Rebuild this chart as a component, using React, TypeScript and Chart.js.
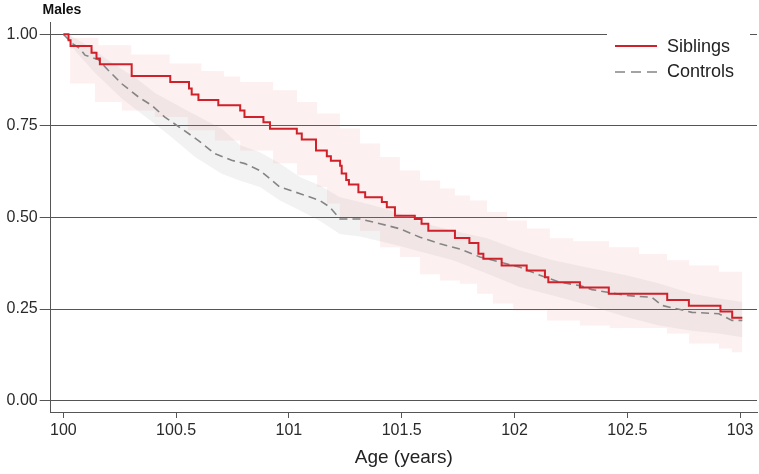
import React, { useEffect, useRef } from 'react';
import { Chart, registerables } from 'chart.js';

Chart.register(...registerables);

const FONT = "'Liberation Sans', Arial, Helvetica, sans-serif";

const panelTitle = 'Males';
const xAxisTitle = 'Age (years)';
const seriesNames = ['Siblings', 'Controls'];

const xTickValues = [100, 100.5, 101, 101.5, 102, 102.5, 103];
const xTickLabels = ['100', '100.5', '101', '101.5', '102', '102.5', '103'];
const yTickValues = [0, 0.25, 0.5, 0.75, 1];
const yTickLabels = ['0.00', '0.25', '0.50', '0.75', '1.00'];

// Siblings Kaplan-Meier estimate (step function)
const siblingsAge = [
  100.0, 100.023, 100.032, 100.125, 100.147, 100.162, 100.303, 100.474, 100.557, 100.569,
  100.599, 100.687, 100.784, 100.803, 100.887, 100.916, 101.035, 101.057, 101.12, 101.168,
  101.186, 101.227, 101.234, 101.254, 101.266, 101.308, 101.338, 101.412, 101.434, 101.47,
  101.558, 101.588, 101.618, 101.736, 101.8, 101.84, 101.862, 101.943, 102.054, 102.135,
  102.15, 102.29, 102.418, 102.677, 102.773, 102.913, 102.965, 103.01,
];
const siblingsSurv = [
  1.0, 0.984, 0.968, 0.95, 0.934, 0.918, 0.886, 0.87, 0.852, 0.836,
  0.821, 0.806, 0.792, 0.774, 0.76, 0.742, 0.729, 0.713, 0.683, 0.667,
  0.655, 0.641, 0.62, 0.602, 0.59, 0.569, 0.555, 0.542, 0.528, 0.505,
  0.496, 0.483, 0.464, 0.444, 0.43, 0.401, 0.387, 0.369, 0.355, 0.337,
  0.323, 0.309, 0.292, 0.275, 0.259, 0.243, 0.226, 0.226,
];

// Siblings 95% CI
const siblingsUpperAge = [
  100.0, 100.04, 100.155, 100.301, 100.471, 100.612, 100.712, 100.784, 100.93, 101.036,
  101.125, 101.226, 101.315, 101.404, 101.492, 101.581, 101.67, 101.736, 101.803, 101.878,
  101.967, 102.055, 102.157, 102.26, 102.419, 102.552, 102.676, 102.774, 102.906, 103.01,
];
const siblingsUpperSurv = [
  1.0, 0.99, 0.97, 0.945, 0.92, 0.9, 0.885, 0.87, 0.847, 0.815,
  0.784, 0.743, 0.702, 0.665, 0.628, 0.601, 0.579, 0.56, 0.546, 0.515,
  0.492, 0.47, 0.443, 0.435, 0.419, 0.4, 0.383, 0.369, 0.352, 0.335,
];
const siblingsLowerAge = [
  100.0, 100.03, 100.14, 100.259, 100.406, 100.552, 100.672, 100.784, 100.93, 101.036,
  101.125, 101.169, 101.226, 101.315, 101.404, 101.492, 101.581, 101.67, 101.758, 101.834,
  101.904, 101.994, 102.144, 102.29, 102.423, 102.676, 102.774, 102.906, 102.964, 103.01,
];
const siblingsLowerSurv = [
  1.0, 0.866, 0.815, 0.792, 0.774, 0.738, 0.71, 0.683, 0.648, 0.615,
  0.583, 0.538, 0.501, 0.464, 0.419, 0.392, 0.345, 0.328, 0.319, 0.292,
  0.265, 0.246, 0.219, 0.205, 0.198, 0.183, 0.156, 0.142, 0.132, 0.132,
];

// Controls estimate
const controlsAge = [
  100.0, 100.04, 100.074, 100.096, 100.155, 100.199, 100.259, 100.333, 100.392, 100.45,
  100.525, 100.599, 100.672, 100.746, 100.805, 100.872, 100.96, 101.05, 101.138, 101.182,
  101.226, 101.315, 101.404, 101.492, 101.581, 101.67, 101.758, 101.847, 101.936, 102.024,
  102.113, 102.202, 102.29, 102.344, 102.495, 102.609, 102.653, 102.787, 102.906, 102.964,
  103.01,
];
const controlsSurv = [
  1.0, 0.975, 0.961, 0.943, 0.931, 0.902, 0.865, 0.829, 0.806, 0.774,
  0.742, 0.71, 0.674, 0.656, 0.647, 0.628, 0.583, 0.565, 0.546, 0.528,
  0.496, 0.496, 0.483, 0.469, 0.446, 0.428, 0.414, 0.392, 0.378, 0.364,
  0.342, 0.323, 0.314, 0.303, 0.287, 0.282, 0.26, 0.241, 0.237, 0.219,
  0.219,
];

// Controls 95% CI
const controlsUpperAge = [
  100.0, 100.05, 100.12, 100.184, 100.333, 100.406, 100.554, 100.702, 100.784, 100.872,
  100.96, 101.05, 101.138, 101.226, 101.315, 101.404, 101.492, 101.581, 101.728, 101.878,
  102.024, 102.17, 102.344, 102.495, 102.641, 102.787, 102.906, 103.01,
];
const controlsUpperSurv = [
  1.0, 0.99, 0.965, 0.935, 0.875, 0.84, 0.79, 0.742, 0.697, 0.678,
  0.647, 0.61, 0.587, 0.555, 0.542, 0.528, 0.51, 0.487, 0.464, 0.443,
  0.41, 0.383, 0.361, 0.342, 0.32, 0.292, 0.279, 0.269,
];
const controlsLowerAge = [
  100.0, 100.06, 100.14, 100.259, 100.406, 100.48, 100.584, 100.702, 100.784, 100.872,
  100.96, 101.05, 101.138, 101.226, 101.315, 101.404, 101.492, 101.581, 101.728, 101.878,
  102.024, 102.17, 102.321, 102.495, 102.641, 102.787, 102.906, 103.01,
];
const controlsLowerSurv = [
  1.0, 0.95, 0.895, 0.825, 0.755, 0.719, 0.665, 0.619, 0.6, 0.583,
  0.546, 0.519, 0.49, 0.455, 0.448, 0.435, 0.422, 0.407, 0.383, 0.347,
  0.31, 0.287, 0.262, 0.228, 0.205, 0.191, 0.183, 0.173,
];

const pts = (xs: number[], ys: number[]) => xs.map((x, i) => ({ x, y: ys[i] }));

const RED = '#d0202a';
const GRAY = '#858585';
const AXIS = '#555555';

const overlayPlugin = {
  id: 'overlay',
  afterDraw(chart: any) {
    const ctx = chart.ctx as CanvasRenderingContext2D;
    ctx.save();
    // panel title
    ctx.font = `bold 14px ${FONT}`;
    ctx.fillStyle = '#111';
    ctx.textAlign = 'left';
    ctx.textBaseline = 'alphabetic';
    ctx.fillText(panelTitle, 42.5, 14);

    // legend
    ctx.fillStyle = '#ffffff';
    ctx.fillRect(607, 27, 143, 62);
    ctx.lineWidth = 2;
    ctx.strokeStyle = RED;
    ctx.setLineDash([]);
    ctx.beginPath();
    ctx.moveTo(615, 46);
    ctx.lineTo(657, 46);
    ctx.stroke();
    ctx.lineWidth = 1.5;
    ctx.strokeStyle = GRAY;
    ctx.setLineDash([10, 6]);
    ctx.beginPath();
    ctx.moveTo(615, 72);
    ctx.lineTo(657, 72);
    ctx.stroke();
    ctx.setLineDash([]);
    ctx.font = `18px ${FONT}`;
    ctx.fillStyle = '#222';
    ctx.textBaseline = 'middle';
    ctx.fillText(seriesNames[0], 667, 47);
    ctx.fillText(seriesNames[1], 667, 72.5);
    ctx.restore();
  },
};

export default function App() {
  const canvasRef = useRef<HTMLCanvasElement | null>(null);

  useEffect(() => {
    if (!canvasRef.current) return;
    Chart.defaults.font.family = FONT;
    const chart = new Chart(canvasRef.current, {
      type: 'line',
      data: {
        datasets: [
          {
            label: 'Siblings CI upper',
            data: pts(siblingsUpperAge, siblingsUpperSurv),
            stepped: 'before',
            borderColor: 'transparent',
            borderWidth: 0,
            pointRadius: 0,
            backgroundColor: 'rgba(235,120,120,0.11)',
            fill: '+1',
            order: 4,
          },
          {
            label: 'Siblings CI lower',
            data: pts(siblingsLowerAge, siblingsLowerSurv),
            stepped: 'before',
            borderColor: 'transparent',
            borderWidth: 0,
            pointRadius: 0,
            fill: false,
            order: 4,
          },
          {
            label: 'Controls CI upper',
            data: pts(controlsUpperAge, controlsUpperSurv),
            borderColor: 'transparent',
            borderWidth: 0,
            pointRadius: 0,
            backgroundColor: 'rgba(140,140,140,0.11)',
            fill: '+1',
            order: 3,
          },
          {
            label: 'Controls CI lower',
            data: pts(controlsLowerAge, controlsLowerSurv),
            borderColor: 'transparent',
            borderWidth: 0,
            pointRadius: 0,
            fill: false,
            order: 3,
          },
          {
            label: seriesNames[1],
            data: pts(controlsAge, controlsSurv),
            borderColor: GRAY,
            borderWidth: 1.6,
            borderDash: [8, 5],
            pointRadius: 0,
            fill: false,
            order: 2,
          },
          {
            label: seriesNames[0],
            data: pts(siblingsAge, siblingsSurv),
            stepped: 'before',
            borderColor: RED,
            borderWidth: 2,
            pointRadius: 0,
            fill: false,
            order: 1,
          },
        ],
      },
      options: {
        animation: false,
        responsive: false,
        events: [],
        layout: { padding: { top: 22.7, right: 2, left: 0, bottom: 0 } },
        plugins: {
          legend: { display: false },
          tooltip: { enabled: false },
          title: { display: false },
        },
        scales: {
          x: {
            type: 'linear',
            min: 99.944,
            max: 103.075,
            afterBuildTicks: (s: any) => {
              s.ticks = xTickValues.map((v) => ({ value: v }));
            },
            afterFit: (s: any) => {
              s.height = 62;
              s.paddingLeft = 0;
              s.paddingRight = 0;
            },
            grid: {
              display: true,
              drawOnChartArea: false,
              drawTicks: true,
              tickLength: 6,
              tickColor: AXIS,
              color: AXIS,
            },
            border: { display: true, color: AXIS, width: 1 },
            ticks: {
              autoSkip: false,
              maxRotation: 0,
              padding: 3,
              color: '#2a2a2a',
              font: { size: 16, family: FONT },
              callback: (_v: any, i: number) => xTickLabels[i],
            },
            title: {
              display: true,
              text: xAxisTitle,
              color: '#222',
              font: { size: 19, family: FONT },
              padding: { top: 0, bottom: 5 },
            },
          },
          y: {
            type: 'linear',
            min: -0.0311,
            max: 1.0317,
            afterBuildTicks: (s: any) => {
              s.ticks = yTickValues.map((v) => ({ value: v }));
            },
            afterFit: (s: any) => {
              s.width = 50.7;
              s.paddingTop = 0;
              s.paddingBottom = 0;
            },
            grid: {
              display: true,
              drawOnChartArea: true,
              drawTicks: true,
              tickLength: 11,
              color: AXIS,
              tickColor: AXIS,
              lineWidth: 1,
            },
            border: { display: true, color: AXIS, width: 1 },
            ticks: {
              padding: 2,
              color: '#2a2a2a',
              font: { size: 16, family: FONT },
              callback: (_v: any, i: number) => yTickLabels[i],
            },
          },
        },
      },
      plugins: [overlayPlugin],
    } as any);
    return () => chart.destroy();
  }, []);

  return (
    <div style={{ position: 'absolute', left: 0, top: 0, width: 759, height: 474, background: '#fff' }}>
      <canvas ref={canvasRef} width={759} height={474} style={{ display: 'block' }} />
    </div>
  );
}
